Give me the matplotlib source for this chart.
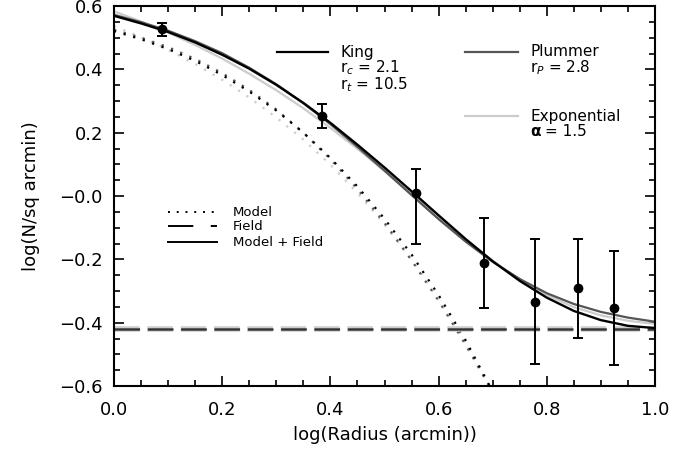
import matplotlib.pyplot as plt
from matplotlib.lines import Line2D
from matplotlib.ticker import MultipleLocator, FixedLocator, FixedFormatter

# Điểm quan sát (log bán kính, log mật độ, sai số dưới/trên)
r_obs = [0.088, 0.385, 0.558, 0.683, 0.779, 0.857, 0.924]
dens_obs = [0.526, 0.254, 0.009, -0.211, -0.335, -0.290, -0.354]
err_low = [0.021, 0.039, 0.160, 0.142, 0.196, 0.157, 0.180]
err_high = [0.020, 0.037, 0.075, 0.143, 0.198, 0.154, 0.181]

# Đường mô hình
x_model = [0.0, 0.05, 0.1, 0.15, 0.2, 0.25, 0.3, 0.35, 0.4, 0.45, 0.5,
           0.55, 0.6, 0.65, 0.7, 0.75, 0.8, 0.85, 0.9, 0.95, 1.0]
king_total = [0.569, 0.545, 0.518, 0.485, 0.446, 0.402, 0.351, 0.294, 0.231, 0.162, 0.090,
              0.015, -0.061, -0.136, -0.206, -0.268, -0.321, -0.363, -0.392, -0.410, -0.417]
plummer_total = [0.572, 0.549, 0.522, 0.489, 0.451, 0.405, 0.353, 0.293, 0.227, 0.155, 0.080,
                 0.003, -0.073, -0.144, -0.208, -0.262, -0.307, -0.341, -0.366, -0.384, -0.397]
exp_total = [0.583, 0.551, 0.516, 0.477, 0.434, 0.386, 0.334, 0.277, 0.215, 0.149, 0.079,
             0.007, -0.067, -0.138, -0.205, -0.264, -0.313, -0.351, -0.377, -0.394, -0.404]

x_core = x_model[:15]
king_model = [0.521, 0.495, 0.464, 0.427, 0.382, 0.330, 0.270, 0.200, 0.120, 0.030, -0.072,
              -0.185, -0.313, -0.456, -0.618]
plummer_model = [0.525, 0.500, 0.470, 0.433, 0.388, 0.335, 0.273, 0.200, 0.117, 0.022, -0.085,
                 -0.203, -0.331, -0.470, -0.618]
exp_model = [0.537, 0.501, 0.462, 0.417, 0.367, 0.311, 0.248, 0.178, 0.099, 0.010, -0.090,
             -0.201, -0.327, -0.467, -0.625]

# Nền (field)
field_exp = -0.419
field_plummer = -0.419
field_king = -0.419

yticks = [-0.6, -0.4, -0.2, 0.0, 0.2, 0.4, 0.6]
ytick_labels = ['\u22120.6', '\u22120.4', '\u22120.2', '\u22120.0', '0.2', '0.4', '0.6']

plt.rcParams['font.family'] = ['DejaVu Sans']

W, H = 696, 457
fig = plt.figure(figsize=(W / 100, H / 100), dpi=100)
ax = fig.add_axes([114 / W, (H - 386) / H, 541 / W, 380 / H])

c_king, c_plum, c_exp = 'black', '#555555', '#cccccc'
dot = (0, (1, 3.5))

# Mô hình
ax.plot(x_core, exp_model, color=c_exp, lw=1.6, ls=dot)
ax.plot(x_core, plummer_model, color=c_plum, lw=1.6, ls=dot)
ax.plot(x_core, king_model, color=c_king, lw=1.6, ls=dot)

# Nền
ax.axhline(field_exp, color=c_exp, lw=4, ls=(0, (4.6, 1.4)))
ax.axhline(field_plummer, color=c_plum, lw=2, ls=(0, (9.2, 2.8)))
ax.axhline(field_king, color='#333333', lw=0.8, ls=(0, (23, 7)))

# Mô hình + nền
ax.plot(x_model, exp_total, color=c_exp, lw=1.6)
ax.plot(x_model, plummer_total, color=c_plum, lw=1.6)
ax.plot(x_model, king_total, color=c_king, lw=1.7)

ax.errorbar(r_obs, dens_obs, yerr=[err_low, err_high], fmt='o', color='black', ms=6,
            elinewidth=1.4, capsize=3.5, capthick=1.4)

ax.set_xlim(0, 1)
ax.set_ylim(-0.6, 0.6)
ax.xaxis.set_major_locator(MultipleLocator(0.2))
ax.xaxis.set_minor_locator(MultipleLocator(0.05))
ax.yaxis.set_major_locator(FixedLocator(yticks))
ax.yaxis.set_major_formatter(FixedFormatter(ytick_labels))
ax.yaxis.set_minor_locator(MultipleLocator(0.05))
ax.tick_params(which='both', direction='in', top=True, right=True, width=1.2, labelsize=13)
ax.tick_params(which='major', length=7)
ax.tick_params(which='minor', length=4)
ax.tick_params(axis='x', which='major', pad=11)
ax.tick_params(axis='y', which='major', pad=8)
for s in ax.spines.values():
    s.set_linewidth(1.5)

ax.set_xlabel('log(Radius (arcmin))', fontsize=13, labelpad=5)
ax.set_ylabel('log(N/sq arcmin)', fontsize=13, labelpad=14)


def fx(px):
    return px / W


def fy(py):
    return 1 - py / H


# Chú thích phía trên
fig.add_artist(Line2D([fx(277), fx(328)], [fy(52), fy(52)], color=c_king, lw=1.6))
fig.text(fx(340), fy(52), 'King', fontsize=11, va='center')
fig.text(fx(340), fy(68), 'r$_c$ = 2.1', fontsize=11, va='center')
fig.text(fx(340), fy(85), 'r$_t$ = 10.5', fontsize=11, va='center')

fig.add_artist(Line2D([fx(465), fx(518)], [fy(52), fy(52)], color=c_plum, lw=1.6))
fig.text(fx(530), fy(52), 'Plummer', fontsize=11, va='center')
fig.text(fx(530), fy(68), 'r$_P$ = 2.8', fontsize=11, va='center')

fig.add_artist(Line2D([fx(465), fx(518)], [fy(116), fy(116)], color=c_exp, lw=1.6))
fig.text(fx(530), fy(116), 'Exponential', fontsize=11, va='center')
fig.text(fx(530), fy(131), '\u03b1', fontsize=11, va='center', fontweight='bold')
fig.text(fx(545), fy(131), '= 1.5', fontsize=11, va='center')

# Chú thích phía dưới
fig.add_artist(Line2D([fx(168), fx(217)], [fy(212), fy(212)], color='black', lw=1.4, ls=(0, (1, 3.5))))
fig.text(fx(233), fy(212), 'Model', fontsize=9.5, va='center')
fig.add_artist(Line2D([fx(168), fx(217)], [fy(226), fy(226)], color='black', lw=1.4, ls=(0, (13, 9))))
fig.text(fx(233), fy(226), 'Field', fontsize=9.5, va='center')
fig.add_artist(Line2D([fx(168), fx(217)], [fy(242), fy(242)], color='black', lw=1.4))
fig.text(fx(233), fy(242), 'Model + Field', fontsize=9.5, va='center')

fig.savefig('out.png', dpi=100)
